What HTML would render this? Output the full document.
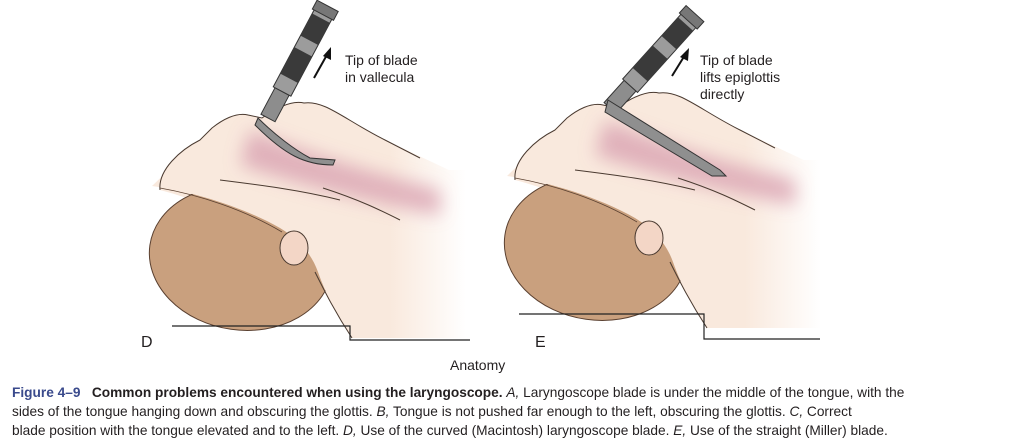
<!DOCTYPE html>
<html><head><meta charset="utf-8"><style>
body{margin:0;background:#fff;width:1024px;height:445px;overflow:hidden;position:relative;font-family:"Liberation Sans",sans-serif}
.lab{position:absolute;font-size:14px;line-height:17px;color:#231f20}
.cap{position:absolute;left:12px;top:383px;font-size:13.7px;line-height:19px;color:#231f20;width:1010px;white-space:nowrap}
.cap b.f{color:#3a4a8c}
</style></head><body>
<svg width="1024" height="445" style="position:absolute;left:0;top:0">
<defs>
<linearGradient id="sk" gradientUnits="userSpaceOnUse" x1="390" y1="0" x2="466" y2="0">
<stop offset="0" stop-color="#f9e9dd"/><stop offset="1" stop-color="#ffffff"/></linearGradient>
<filter id="bl" x="-50%" y="-50%" width="200%" height="200%"><feGaussianBlur stdDeviation="9"/></filter>
<g id="pt">
<path d="M160,190 C158,170 180,150 200,140 L212,128 C222,120 236,112 248,115 L262,118 C276,108 292,100 304,103 C325,100 345,120 385,140 L466,178 L466,338 L352,338 C335,312 325,292 315,272 C305,255 290,245 265,232 C232,215 198,200 160,190 Z" fill="url(#sk)"/>
<ellipse cx="241" cy="258" rx="92" ry="72" transform="rotate(8 241 258)" fill="#c9a07e" stroke="#5a4030" stroke-width="1"/>
<path d="M152,186 C195,192 245,208 280,228 C300,240 312,255 318,272 C325,292 335,312 352,338 L466,338 L466,170 L300,170 L200,140 Z" fill="url(#sk)"/>
<path d="M160,188 C200,195 245,210 282,232" fill="none" stroke="#5a4030" stroke-width="0.8"/>
<path d="M160,190 C158,170 180,150 200,140 L212,128 C222,120 236,112 248,115 L262,118 C276,108 292,100 304,103 C325,100 345,120 385,140 L420,158" fill="none" stroke="#4a3a30" stroke-width="1"/>
<path d="M250,130 C300,150 360,170 440,190 L440,215 C360,200 300,185 240,165 Z" fill="#dca7b5" filter="url(#bl)" opacity="0.85"/>
<path d="M315,272 C325,292 335,312 352,338" fill="none" stroke="#4a3a30" stroke-width="1"/>
<ellipse cx="294" cy="248" rx="14" ry="17" fill="#f3d6c6" stroke="#4a3a30" stroke-width="1"/>
<path d="M220,180 C260,185 300,190 340,200 M323,188 C360,200 380,210 400,220" fill="none" stroke="#4a3a30" stroke-width="1"/>
</g>
</defs>
<use href="#pt"/>
<use href="#pt" transform="translate(355,-10)"/>
<g transform="translate(268,118) rotate(-62)">
<rect x="0" y="-8" width="30" height="16" fill="#8d8d8d" stroke="#333"/>
<rect x="30" y="-10" width="95" height="20" fill="#9c9c9c" stroke="#333"/>
<rect x="45" y="-10" width="30" height="20" fill="#3a3a3a"/>
<rect x="88" y="-10" width="25" height="20" fill="#3a3a3a"/>
<rect x="117" y="-12" width="10" height="24" fill="#777" stroke="#333"/>
</g>
<path d="M258,118 C275,135 295,150 310,158 L335,160 L333,165 C305,165 285,155 255,125 Z" fill="#8f8f8f" stroke="#333"/>
<g transform="translate(610,108) rotate(-48)">
<rect x="0" y="-8" width="30" height="16" fill="#8d8d8d" stroke="#333"/>
<rect x="30" y="-10" width="95" height="20" fill="#9c9c9c" stroke="#333"/>
<rect x="45" y="-10" width="30" height="20" fill="#3a3a3a"/>
<rect x="88" y="-10" width="25" height="20" fill="#3a3a3a"/>
<rect x="117" y="-12" width="10" height="24" fill="#777" stroke="#333"/>
</g>
<path d="M608,100 L720,170 L726,176 L712,176 L605,112 Z" fill="#8f8f8f" stroke="#333"/>
<line x1="314" y1="78" x2="328" y2="53" stroke="#111" stroke-width="2"/><path d="M331,47 L331,60 L323,56 Z" fill="#111"/>
<line x1="672" y1="76" x2="685" y2="55" stroke="#111" stroke-width="2"/><path d="M689,48 L688,61 L680,57 Z" fill="#111"/>
<path d="M172,326 H350 V340 H470" fill="none" stroke="#222" stroke-width="1.2"/>
<path d="M519,314 H704 V339 H820" fill="none" stroke="#222" stroke-width="1.2"/>
</svg>
<div class="lab" style="left:345px;top:52px">Tip of blade<br>in vallecula</div>
<div class="lab" style="left:700px;top:52px">Tip of blade<br>lifts epiglottis<br>directly</div>
<div class="lab" style="left:141px;top:334px;font-size:16px">D</div>
<div class="lab" style="left:535px;top:334px;font-size:16px">E</div>
<div class="lab" style="left:450px;top:357px">Anatomy</div>
<div class="cap"><b class="f">Figure 4–9</b>&nbsp;&nbsp;&nbsp;<b>Common problems encountered when using the laryngoscope.</b> <i>A,</i> Laryngoscope blade is under the middle of the tongue, with the<br>sides of the tongue hanging down and obscuring the glottis. <i>B,</i> Tongue is not pushed far enough to the left, obscuring the glottis. <i>C,</i> Correct<br>blade position with the tongue elevated and to the left. <i>D,</i> Use of the curved (Macintosh) laryngoscope blade. <i>E,</i> Use of the straight (Miller) blade.</div>
</body></html>
